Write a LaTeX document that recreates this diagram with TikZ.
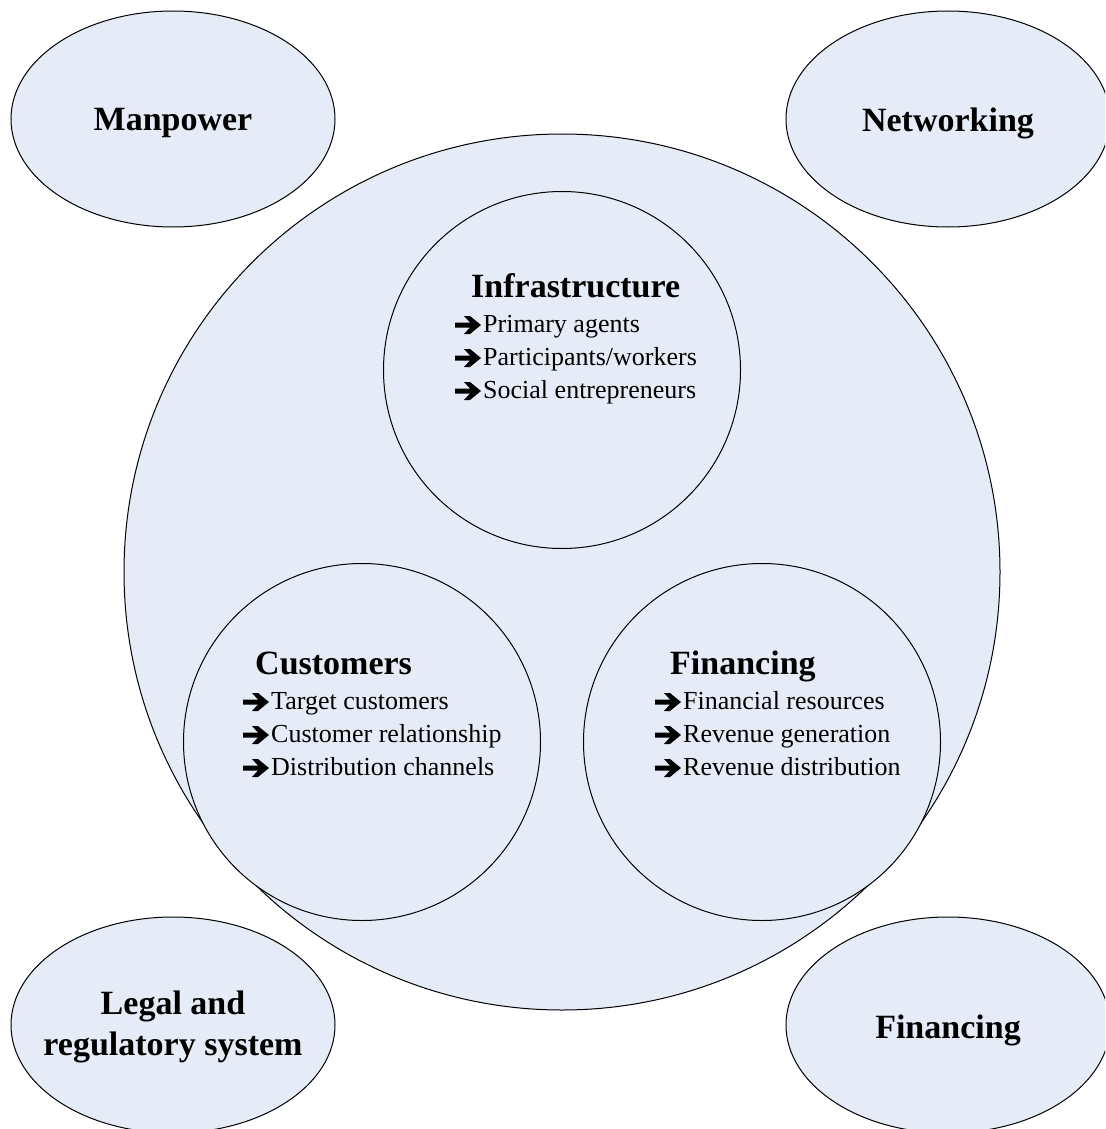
\documentclass[tikz,border=0pt]{standalone}
\usepackage{fontspec}
\setmainfont{Liberation Serif}
\usetikzlibrary{shapes.geometric}
\definecolor{fillc}{RGB}{230,236,247}
\begin{document}
\begin{tikzpicture}[x=1pt,y=-1pt,
  bub/.style={draw=black, line width=1pt, fill=fillc, ellipse, inner sep=0pt,
    minimum width=324pt, minimum height=216pt},
  otxt/.style={font=\fontsize{34}{41}\selectfont\bfseries, align=center, inner sep=0pt},
  circ/.style={draw=black, line width=1pt, fill=fillc, circle, inner sep=0pt},
  ttl/.style={font=\fontsize{34}{40}\selectfont\bfseries, anchor=base west, inner sep=0pt},
  lst/.style={font=\fontsize{26}{30}\selectfont, anchor=base west, inner sep=0pt},
  larr/.pic={\fill (0,-2.5) -- (15,-2.5) -- (9,-9) -- (15,-9) -- (26,0) -- (15,9)
     -- (9,9) -- (15,2.5) -- (0,2.5) -- cycle;}]
\useasboundingbox (0,0) rectangle (1105,1129);
\clip (0,0) rectangle (1105,1129);
% outer ellipses
\node[bub] (man) at (173,119) {};
\node[bub] (net) at (948,119) {};
\node[bub] (legal) at (173,1025) {};
\node[bub] (finout) at (948,1025) {};
\node[otxt] (manT) at ([yshift=-4pt]man.center) {Manpower};
\node[otxt] (netT) at ([yshift=-4pt]net.center) {Networking};
\node[otxt] (legalT) at ([yshift=-2pt]legal.center) {Legal and\\regulatory system};
\node[otxt] (finoutT) at ([yshift=-5pt]finout.center) {Financing};
% big circle
\node[circ, minimum size=876pt] (big) at (562,572) {};
% inner circles
\node[circ, minimum size=357pt] (infra) at (562,370) {};
\node[circ, minimum size=357pt] (cust) at (362,742) {};
\node[circ, minimum size=357pt] (fin) at (762,742) {};
% Infrastructure
\node[ttl] (infraT) at (471,297) {Infrastructure};
\pic at (455,325) {larr};
\pic at (455,358) {larr};
\pic at (455,391) {larr};
\node[lst] (infra1) at (483,332) {Primary agents};
\node[lst] (infra2) at (483,365) {Participants/workers};
\node[lst] (infra3) at (483,398) {Social entrepreneurs};
% Customers
\node[ttl] (custT) at (255,674) {Customers};
\pic at (243,702) {larr};
\pic at (243,735) {larr};
\pic at (243,768) {larr};
\node[lst] (cust1) at (271,709) {Target customers};
\node[lst] (cust2) at (271,742) {Customer relationship};
\node[lst] (cust3) at (271,775) {Distribution channels};
% Financing
\node[ttl] (finT) at (670,674) {Financing};
\pic at (655,702) {larr};
\pic at (655,735) {larr};
\pic at (655,768) {larr};
\node[lst] (fin1) at (683,709) {Financial resources};
\node[lst] (fin2) at (683,742) {Revenue generation};
\node[lst] (fin3) at (683,775) {Revenue distribution};
\end{tikzpicture}
\end{document}
